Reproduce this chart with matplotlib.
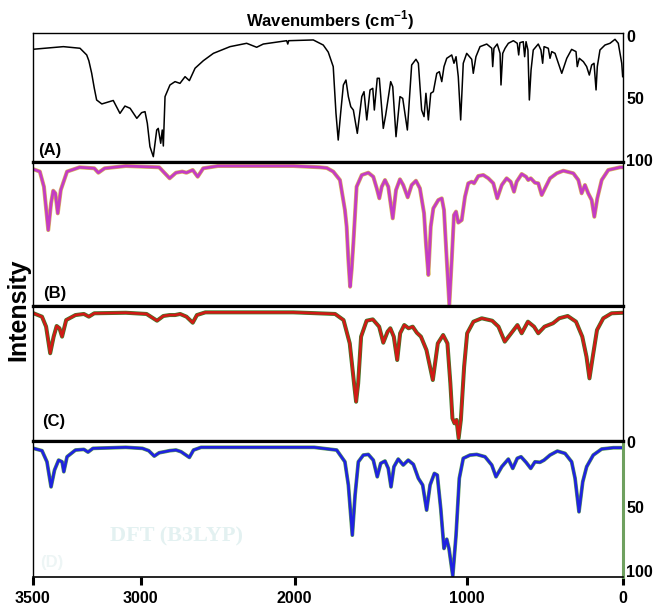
import numpy as np
import matplotlib
matplotlib.use("Agg")
import matplotlib.pyplot as plt

plt.rcParams['font.family'] = ['Liberation Sans', 'DejaVu Sans']
plt.rcParams['mathtext.fontset'] = 'custom'
plt.rcParams['mathtext.bf'] = 'Liberation Sans:bold'
plt.rcParams['mathtext.rm'] = 'Liberation Sans:bold'

# (wavenumber, intensity)
spec_a = np.array([
    (3497, 10.7), (3358, 8.6), (3281, 9.9), (3250, 15.3), (3240, 20), (3227, 30), (3215, 42),
    (3204, 51.6), (3180, 54.8),
    (3127, 52), (3096, 62.4), (3073, 56.5), (3049, 58.3), (3018, 66.4), (2994, 61.8), (2972, 61),
    (2957, 70.4), (2940, 89.2), (2918, 97.3), (2896, 75.8), (2886, 74.5), (2870, 86.5), (2860, 75.8),
    (2853, 88.7), (2842, 48.9), (2810, 39.5), (2777, 36.8), (2745, 38.2), (2712, 32.8), (2684, 36),
    (2647, 26), (2593, 19.9), (2528, 14), (2420, 8.6), (2312, 5.9), (2247, 9.1), (2204, 6.5),
    (2052, 3.8), (2045, 6.5), (2039, 3.8), (1892, 3.2), (1834, 7.3), (1805, 13), (1776, 24.7),
    (1760, 62.4), (1747, 83.9), (1733, 62.4), (1717, 39.5), (1702, 35.5), (1688, 48.9), (1674, 57),
    (1659, 59.7), (1636, 78.5), (1610, 48.9), (1597, 44.9), (1581, 67.7), (1562, 43.5), (1546, 42.2),
    (1537, 59.7), (1520, 34.1), (1508, 34.1), (1485, 74.5), (1471, 63.7), (1442, 36.8), (1430, 40.9),
    (1411, 81.2), (1388, 48.9), (1372, 50.3), (1345, 75.8), (1320, 23.4), (1295, 18.8), (1281, 22),
    (1262, 59.7), (1248, 65), (1237, 46.2), (1223, 67.7), (1209, 46.2), (1194, 44.9), (1174, 30.1),
    (1159, 28.8), (1145, 36.8), (1132, 24.7), (1116, 18), (1087, 15.3), (1074, 22), (1062, 16.7),
    (1049, 32.8), (1035, 67.7), (1020, 22), (1000, 14), (968, 18.8), (958, 30.1), (941, 16.7),
    (915, 8.6), (872, 6.5), (840, 9.9), (834, 24.7), (826, 9.9), (805, 6.5), (787, 14), (781, 39.5),
    (770, 14), (755, 9.9), (734, 5.9), (702, 3.8), (677, 5.9), (668, 15.3), (660, 5.4), (639, 4.6),
    (630, 16.7), (621, 4.6), (609, 11.3), (600, 51.6), (589, 27.4), (575, 11.3), (543, 6.5),
    (526, 11.3), (515, 22), (506, 8.6), (479, 9.9), (468, 18), (457, 12.6), (436, 14), (415, 22),
    (393, 30.1), (361, 18), (330, 10.8), (302, 12.6), (294, 24.7), (281, 18), (255, 20.7), (234, 24.7),
    (217, 31.5), (202, 23.4), (187, 22), (174, 43.5), (166, 24.7), (149, 11.3), (117, 7.3), (85, 5.9),
    (53, 2.7), (32, 5.9), (10, 22), (4, 32.8)])

spec_b = np.array([
    (3496, 4.4), (3467, 6), (3448, 16.6), (3428, 46.9), (3415, 28.2), (3405, 19.4), (3395, 21.2),
    (3384, 35.2), (3370, 18.9), (3341, 6), (3283, 3), (3215, 3.7), (3196, 6.8), (3167, 3.7),
    (3069, 2.1), (2880, 3), (2812, 10.7), (2771, 6.8), (2730, 6), (2703, 6.8), (2662, 4.9), (2630, 9.6),
    (2594, 3.7), (2499, 2.1), (2009, 2.1), (1853, 3), (1813, 3.5), (1776, 6), (1737, 11.9), (1708, 32.9),
    (1698, 44.5), (1688, 67.8), (1678, 86.5), (1669, 74.8), (1659, 56.2), (1640, 16.6), (1610, 8.4),
    (1572, 6.8), (1543, 9.6), (1523, 17.7),
    (1508, 24.7), (1494, 16.6), (1475, 11.9), (1456, 16.6), (1430, 38.7), (1411, 18.9), (1388, 11.4),
    (1369, 15.4), (1343, 24), (1320, 15.4), (1295, 12.4), (1272, 17.7), (1248, 35.2), (1237, 56.2),
    (1223, 78.3), (1209, 44.5), (1194, 31.7), (1165, 25.9), (1145, 24.7), (1132, 32.9), (1116, 67.8),
    (1101, 99.3), (1087, 67.8), (1074, 36.4), (1062, 34), (1049, 41.7), (1029, 39.9), (1010, 23.6),
    (990, 14.2), (968, 13.1), (953, 14.2), (926, 9.1), (894, 8.4), (862, 10.7), (830, 14.2), (805, 24.7),
    (776, 15.4), (745, 10.7), (719, 13.1), (698, 20.1), (681, 13.1), (649, 7.7), (621, 9.6), (607, 11.9),
    (591, 10.7), (564, 13.8), (543, 14.2), (521, 22.4), (500, 17.7), (468, 10.7), (425, 7.2), (383, 5.4),
    (319, 7.2), (287, 11.9), (266, 21.2), (245, 15.4), (224, 21.2), (202, 25.9), (185, 37.6), (166, 24.7),
    (138, 11.9), (96, 4.9), (21, 3), (0, 3)])

spec_c = np.array([
    (3496, 5.4), (3457, 7.9), (3438, 15.3), (3419, 35), (3403, 22.7), (3389, 14.8), (3376, 16.5),
    (3364, 22.7), (3345, 10.4), (3302, 6.7), (3263, 5.9), (3240, 7.9), (3215, 5.4), (3069, 5),
    (2962, 5.9), (2894, 10.9), (2853, 7.4), (2812, 6.7), (2777, 6.7), (2744, 5.9), (2703, 7.9),
    (2662, 12.4), (2635, 6.7), (2580, 4.7), (2009, 4.7), (1765, 5.9), (1716, 10.4), (1680, 27.7),
    (1655, 57.3), (1643, 70.9), (1631, 57.3), (1614, 22.7), (1582, 10.9), (1546, 9.9), (1509, 15.3),
    (1485, 27.2), (1460, 19), (1444, 16.5), (1424, 22.7), (1404, 40), (1387, 20.2), (1363, 14.1),
    (1338, 16.5), (1314, 15.3), (1290, 19.8), (1266, 22.7), (1234, 32.6), (1197, 54.8), (1168, 27.7),
    (1137, 21.5), (1112, 27.7), (1095, 57.3), (1083, 83.2), (1071, 86.9), (1059, 84.4), (1047, 98),
    (1034, 84.4), (1015, 45), (997, 20.2), (957, 11.6), (904, 9.1), (837, 10.9), (797, 15.3),
    (757, 26.4), (716, 20.2), (676, 14.1), (649, 20.2), (609, 11.6), (570, 15.3), (543, 20.2),
    (503, 15.3), (449, 12.8), (409, 9.1), (355, 7.4), (302, 11.6), (262, 22.7), (235, 37.6),
    (216, 53.6), (195, 37.6), (168, 17.8), (128, 9.1), (75, 5.4), (0, 5)])

spec_d = np.array([
    (3496, 4.9), (3457, 6.7), (3434, 15.3), (3415, 34.7), (3399, 21.7), (3380, 14), (3364, 15.3),
    (3356, 23), (3341, 11.4), (3302, 6.2), (3263, 5.7), (3244, 7.8), (3221, 4.9), (3069, 4.1),
    (2989, 4.9), (2948, 6.7), (2912, 10.9), (2880, 8.3), (2845, 7.5), (2812, 6.7), (2771, 6.2),
    (2738, 7.5), (2684, 11.9), (2657, 6.2), (2608, 4.1), (1887, 4.1), (1756, 6.2), (1708, 15.3),
    (1688, 33.3), (1665, 72.1), (1649, 41.1), (1630, 15.3), (1601, 10.1), (1572, 9.6), (1543, 14),
    (1520, 26.9), (1500, 16.5), (1475, 14.7), (1456, 20.4), (1440, 34.7), (1423, 19.1), (1398, 13.2),
    (1369, 17.8), (1340, 14), (1310, 17.3), (1281, 28.1), (1256, 33.3), (1233, 52.7), (1213, 33.3),
    (1188, 24.3), (1171, 25.6), (1151, 51.4), (1132, 82.4), (1116, 75.2), (1103, 82.4), (1081, 103.6),
    (1062, 72.1), (1043, 28.1), (1020, 12.6), (979, 10.1), (936, 9.6), (883, 11.4), (840, 17.8),
    (813, 26.9), (776, 19.1), (734, 13.2), (706, 20.4), (677, 12.6), (653, 11.4), (621, 15.7),
    (591, 20.4), (564, 15.3), (532, 15.7), (506, 14), (468, 10.1), (421, 7), (372, 8.8), (330, 15.3),
    (308, 28.1), (283, 54), (259, 30.8), (234, 19.1), (192, 10.1), (138, 5.4), (64, 4.4), (10, 4.4)])

x_ticks = [3500, 3000, 2000, 1000, 0]
y_ticks = [0, 50, 100]
labels = ['(A)', '(B)', '(C)', '(D)']

# the printed axis is not evenly spaced: piecewise scale between the ticks
WN_PTS = [0, 1000, 2000, 3000, 3500]
POS_PTS = [0, 156.6, 328.6, 482.6, 590.6]


def fwd(v):
    return np.interp(v, WN_PTS, POS_PTS)


def inv(p):
    return np.interp(p, POS_PTS, WN_PTS)


W, H = 657, 605
fig = plt.figure(figsize=(W / 100, H / 100), dpi=100)

# panel edges in pixels (top, bottom)
edges = [(33, 162), (162, 306), (306, 441), (441, 577.3)]
ylims = [(101.6, -2.4), (100, -0.7), (100, 0), (104.7, -0.8)]
x0, x1 = 32.7, 623.3

axes = []
for i, (t, b) in enumerate(edges):
    ax = fig.add_axes([x0 / W, 1 - b / H, (x1 - x0) / W, (b - t) / H],
                      sharex=axes[0] if axes else None)
    ax.set_xscale('function', functions=(fwd, inv))
    ax.set_xlim(3500, 0)
    ax.set_ylim(*ylims[i])
    for s in ax.spines.values():
        s.set_linewidth(1.0)
        s.set_color('black')
    ax.spines['top'].set_linewidth(1.0 if i == 0 else 2.3)
    ax.spines['bottom'].set_linewidth(1.2 if i == 3 else 2.3)
    ax.tick_params(axis='x', bottom=False, labelbottom=False)
    ax.tick_params(axis='y', left=False, labelleft=False, right=False, labelright=False)
    axes.append(ax)

ax_a, ax_b, ax_c, ax_d = axes

ax_a.plot(spec_a[:, 0], spec_a[:, 1], color='black', lw=1.1)

ax_b.plot(spec_b[:, 0], spec_b[:, 1], color='#d9b45a', lw=2.9, solid_joinstyle='round')
ax_b.plot(spec_b[:, 0], spec_b[:, 1], color='#c43cc4', lw=2.0, solid_joinstyle='round')

ax_c.plot(spec_c[:, 0], spec_c[:, 1], color='#3f7a2a', lw=2.9, solid_joinstyle='round')
ax_c.plot(spec_c[:, 0], spec_c[:, 1], color='#d01a16', lw=1.9, solid_joinstyle='round')

ax_d.plot(spec_d[:, 0], spec_d[:, 1], color='#5e9c55', lw=2.7, solid_joinstyle='round')
ax_d.plot(spec_d[:, 0], spec_d[:, 1], color='#1f22e0', lw=1.9, solid_joinstyle='round')

# right-hand intensity ticks on A and D
for ax in (ax_a, ax_d):
    ax.set_yticks(y_ticks)
    ax.tick_params(axis='y', right=True, labelright=True, length=0, pad=2,
                   labelsize=11.5)
    for lab in ax.get_yticklabels():
        lab.set_fontweight('bold')

ax_d.spines['right'].set_color('#6fa05f')
ax_d.spines['right'].set_linewidth(2.2)

ax_d.set_xticks(x_ticks)
ax_d.set_xticklabels([str(v) for v in x_ticks])
ax_d.tick_params(axis='x', bottom=True, labelbottom=True, direction='out',
                 length=6, width=2.2, pad=4, labelsize=11.5)
for lab in ax_d.get_xticklabels():
    lab.set_fontweight('bold')

# panel letters
lab_pos = [(0.009, 0.093), (0.017, 0.09), (0.016, 0.143), (0.012, 0.105)]
lab_col = ['black', 'black', 'black', '#edf5f5']
for ax, txt, (lx, ly), c in zip(axes, labels, lab_pos, lab_col):
    ax.text(lx, ly, txt, transform=ax.transAxes, ha='left', va='center',
            fontsize=12, fontweight='bold', color=c)

ax_d.text(0.2435, 0.296, 'DFT (B3LYP)', transform=ax_d.transAxes, ha='center',
          va='center', fontsize=16, fontweight='bold', color='#e3f1f1',
          family=['Liberation Serif', 'DejaVu Serif'])

fig.text(330 / W, 1 - 20 / H, r'Wavenumbers (cm$^{\mathbf{-1}}$)', ha='center',
         va='center', fontsize=12, fontweight='bold')
fig.text(18 / W, 1 - 310 / H, 'Intensity', rotation=90, ha='center', va='center',
         fontsize=18, fontweight='bold')

fig.savefig('out.png', dpi=100)
